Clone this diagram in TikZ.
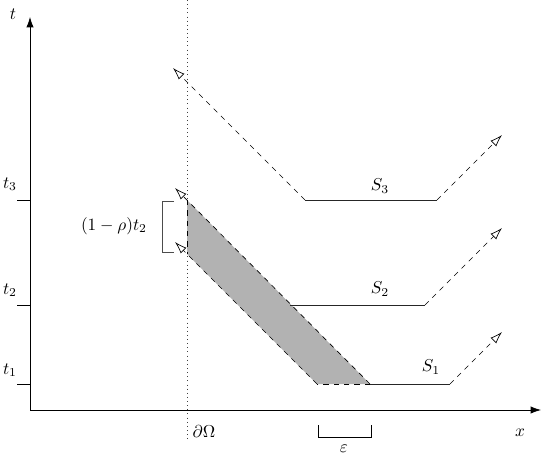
\documentclass[tikz,border=0pt]{standalone}
\usepackage{amsmath}
\usepackage{amssymb}
\usepackage{tikz}
\usetikzlibrary{arrows.meta}
\usetikzlibrary{positioning}
\tikzset{ray/.style = {dashed, -{Latex[open, length=7pt, width=4.6pt]}},
         axis/.style = {-{Latex[length=6pt, width=4.2pt]}},
         front/.style = {draw=black!85}}

\begin{document}
\begin{tikzpicture}[x=0.204cm, y=0.204cm]
    \useasboundingbox (-3.0, -5.6) rectangle (51.5, 41.0);

    % axes and boundary
    \coordinate (o) at (0, 0);
    \coordinate (tend) at (0, 39.3);
    \coordinate (xend) at (51.1, 0);
    \coordinate (btop) at (15.7, 41.0);
    \coordinate (bbot) at (15.7, -3.0);
    \draw [axis] (o) -- (tend);
    \draw [axis] (o) -- (xend);
    \draw [dotted, black!75] (btop) -- (bbot);
    \node (tlab) at (-1.7, 39.6) {$t$};
    \node (xlab) at (49.0, -2.3) {$x$};
    \node (dom) at (17.4, -2.2) {$\partial\Omega$};

    % ticks
    \foreach \name/\h/\lh in {1/2.6/4.0, 2/10.5/12.0, 3/21.0/22.6} {
        \coordinate (tick\name) at (-1.3, \h);
        \coordinate (tax\name) at (0, \h);
        \draw (tick\name) -- (tax\name);
        \node (tl\name) at (-2.0, \lh) {$t_{\name}$};
    }

    % shaded region
    \coordinate (a) at (15.7, 21.0);
    \coordinate (b) at (34.0, 2.6);
    \coordinate (c) at (28.7, 2.6);
    \coordinate (d) at (15.7, 15.6);
    \fill [black!30] (a) -- (b) -- (c) -- (d) -- cycle;
    \draw [dashed] (a) -- (d);
    \draw [dashed] (b) -- (c);

    % fronts
    \coordinate (s1l) at (34.0, 2.6);
    \coordinate (s1r) at (42.0, 2.6);
    \coordinate (s1e) at (47.2, 7.8);
    \coordinate (s2l) at (26.0, 10.5);
    \coordinate (s2r) at (39.5, 10.5);
    \coordinate (s2e) at (47.2, 18.2);
    \coordinate (s3l) at (27.5, 21.0);
    \coordinate (s3r) at (40.7, 21.0);
    \coordinate (s3e) at (47.2, 27.5);
    \coordinate (s3w) at (14.3, 34.2);
    \coordinate (aw) at (14.5, 22.2);
    \coordinate (dw) at (14.5, 16.8);
    \draw [front] (s1l) -- (s1r);
    \draw [front] (s2l) -- (s2r);
    \draw [front] (s3l) -- (s3r);
    \draw [ray] (s1r) -- (s1e);
    \draw [ray] (s2r) -- (s2e);
    \draw [ray] (s3r) -- (s3e);
    \draw [ray] (s3l) -- (s3w);
    \draw [ray] (b) -- (aw);
    \draw [ray] (c) -- (dw);
    \node (S1) at (40.1, 4.3) {$S_1$};
    \node (S2) at (35.0, 12.1) {$S_2$};
    \node (S3) at (35.0, 22.4) {$S_3$};

    % brackets
    \coordinate (bk1) at (14.4, 20.9);
    \coordinate (bk2) at (13.2, 20.9);
    \coordinate (bk3) at (13.2, 15.8);
    \coordinate (bk4) at (14.4, 15.8);
    \draw [black!70] (bk1) -- (bk2) -- (bk3) -- (bk4);
    \node (rho) at (8.4, 18.4) {$(1-\rho)t_2$};
    \coordinate (ep1) at (28.8, -1.5);
    \coordinate (ep2) at (28.8, -2.7);
    \coordinate (ep3) at (34.1, -2.7);
    \coordinate (ep4) at (34.1, -1.5);
    \draw (ep1) -- (ep2) -- (ep3) -- (ep4);
    \node (eps) at (31.4, -3.9) {$\varepsilon$};
  \end{tikzpicture}
\end{document}
